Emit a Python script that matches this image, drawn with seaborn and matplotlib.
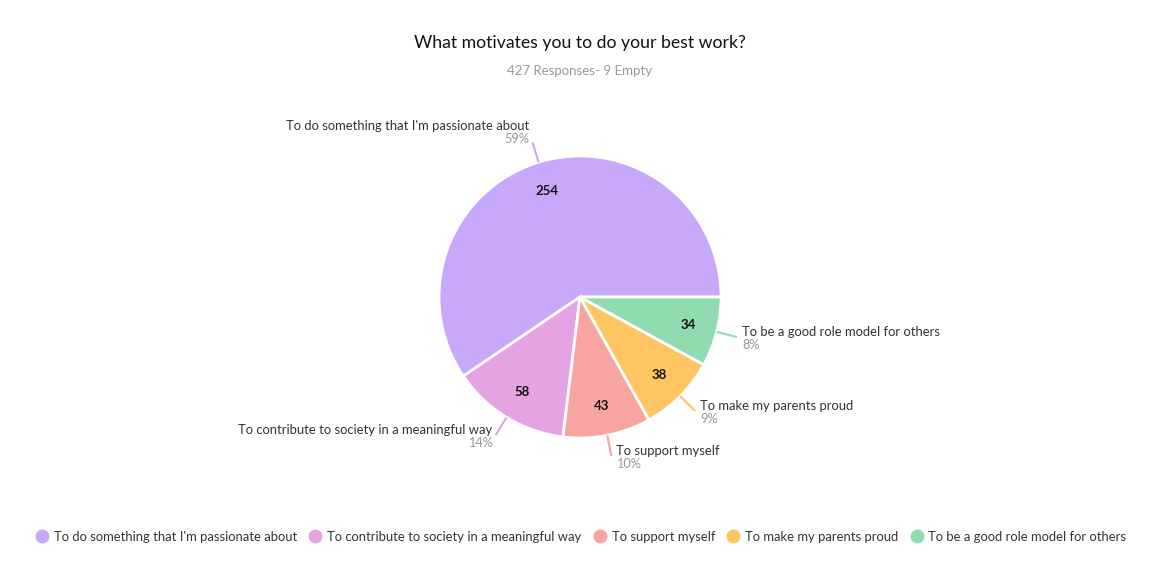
import numpy as np
import matplotlib
matplotlib.use("Agg")
import matplotlib.pyplot as plt
from matplotlib.lines import Line2D
import seaborn as sns

categories = [
    "To do something that I'm passionate about",
    "To contribute to society in a meaningful way",
    "To support myself",
    "To make my parents proud",
    "To be a good role model for others",
]
counts = [254, 58, 43, 38, 34]
percent_labels = ["59%", "14%", "10%", "9%", "8%"]
colors = ["#C8A8FA", "#E4A3E3", "#F8A5A2", "#FEC562", "#90DBB0"]
title = "What motivates you to do your best work?"
subtitle = "427 Responses- 9 Empty"

sns.set_theme(style="white")
plt.rcParams["font.family"] = ["Lato", "DejaVu Sans"]

W, H = 1150, 582
fig = plt.figure(figsize=(W / 100, H / 100), dpi=100)
ax = fig.add_axes([0, 0, 1, 1])

cx, cy, R = 580, H - 297, 141
wedges, texts = ax.pie(
    counts, colors=colors, startangle=0, counterclock=True,
    center=(cx, cy), radius=R, frame=True,
    wedgeprops=dict(edgecolor="white", linewidth=2),
)
ax.set_xlim(0, W)
ax.set_ylim(0, H)
ax.set_aspect("equal")
ax.axis("off")

for w, cat, c, pl, col in zip(wedges, categories, counts, percent_labels, colors):
    mid = np.deg2rad((w.theta1 + w.theta2) / 2)
    ca, sa = np.cos(mid), np.sin(mid)
    ax.text(cx + 0.79 * R * ca, cy + 0.79 * R * sa, str(c), ha="center", va="center",
            fontsize=9.5, fontweight="bold", color="#111111")
    x0, y0 = cx + R * ca, cy + R * sa
    x1, y1 = cx + (R + 21) * ca, cy + (R + 21) * sa
    ax.plot([x0, x1], [y0, y1], color=col, lw=1.5, solid_capstyle="butt")
    right = ca >= 0
    ha = "left" if right else "right"
    tx = x1 + (5 if right else -3)
    if sa > 0.7:
        ty1, ty2 = y1 + 16, y1 + 3
    else:
        ty1, ty2 = y1 + 5, y1 - 8
    ax.text(tx, ty1, cat, ha=ha, va="center", fontsize=9.4, color="#333333")
    ax.text(tx, ty2, pl, ha=ha, va="center", fontsize=9.2, color="#999999")

fig.text(580 / W, 1 - 43 / H, title, ha="center", va="center", fontsize=12.7, color="#111111")
fig.text(580 / W, 1 - 71 / H, subtitle, ha="center", va="center", fontsize=9.5, color="#999999")

handles = [Line2D([0], [0], marker="o", linestyle="", markersize=9,
                  markerfacecolor=col, markeredgecolor=col) for col in colors]
fig.legend(handles, categories, loc="center", bbox_to_anchor=(581 / W, 1 - 537 / H),
           ncol=5, frameon=False, fontsize=9.4, handlelength=1.0, handletextpad=0.4,
           columnspacing=0.9, labelcolor="#333333")

fig.savefig("out.png", dpi=100, facecolor="white")
